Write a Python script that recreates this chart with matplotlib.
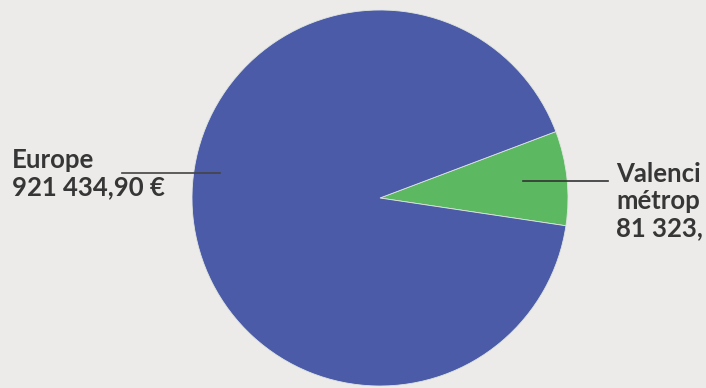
import matplotlib.pyplot as plt

# valeurs (en euros)
labels = ["Valenci\nmétrop\n81 323,", "Europe\n921 434,90 €"]
values = [81323.00, 921434.90]
colors = ["#5db862", "#4b5ba8"]

W, H = 706, 388
fig = plt.figure(figsize=(W / 100, H / 100), dpi=100)
fig.patch.set_facecolor("#ecebe9")
ax = fig.add_axes([0, 0, 1, 1])
ax.set_facecolor("#ecebe9")

cx, cy, r = 380, H - 198, 188
ax.pie(values, colors=colors, startangle=-8.5, counterclock=True,
       center=(cx, cy), radius=r,
       wedgeprops=dict(linewidth=0.6, edgecolor="#dfe6df"))

ax.set_xlim(0, W)
ax.set_ylim(0, H)
ax.set_aspect("equal")
ax.axis("off")

txt = dict(fontsize=18.5, color="#363636", family=["Lato", "DejaVu Sans"],
           fontweight="bold", linespacing=1.15)

# Europe
ax.plot([122, 220], [H - 173, H - 173], color="#444444", lw=1.2)
ax.text(12, H - 148, labels[1], va="top", ha="left", **txt)

# Valenciennes métropole (coupé au bord dans l'original)
ax.plot([523, 608], [H - 181, H - 181], color="#333333", lw=1.2)
ax.text(616, H - 162, labels[0], va="top", ha="left", **txt)

fig.savefig("out.png", dpi=100, facecolor=fig.get_facecolor())
